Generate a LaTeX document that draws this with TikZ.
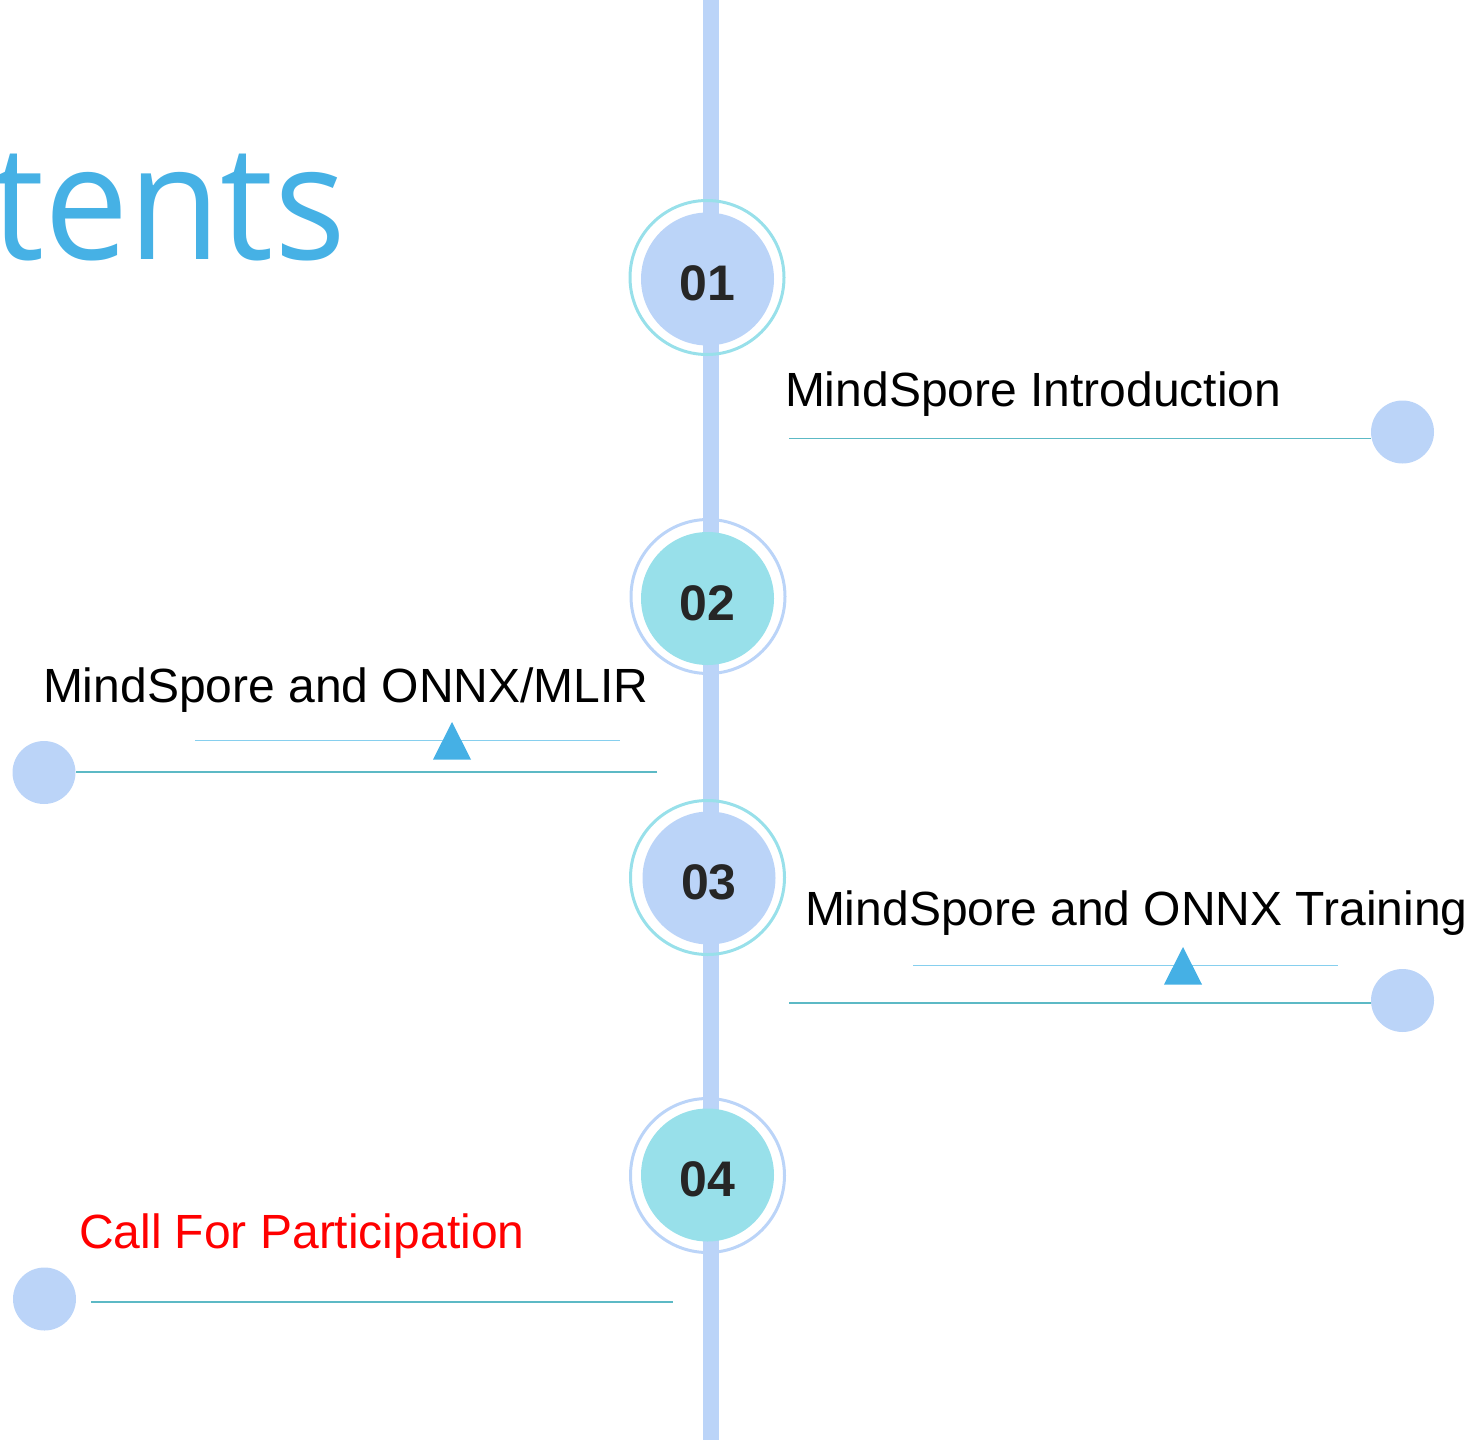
\documentclass[tikz,border=0pt]{standalone}
\usepackage{fontspec}
\setmainfont{Liberation Sans}
\newfontfamily\titlefont{Open Sans}
\definecolor{barblue}{HTML}{BBD4F8}
\definecolor{cyanfill}{HTML}{98E0EA}
\definecolor{tealline}{HTML}{5CB9C5}
\definecolor{skyline}{HTML}{86CFEE}
\definecolor{triblue}{HTML}{45B0E5}
\definecolor{titleblue}{HTML}{46B1E5}
\definecolor{numdark}{HTML}{262626}
\begin{document}
\begin{tikzpicture}[x=1pt,y=-1pt,
  ring/.style={circle,draw=#1,line width=3pt,fill=none,minimum size=154pt,inner sep=0pt},
  core/.style={circle,fill=#1,minimum size=133pt,inner sep=0pt,text height=43pt,text depth=0pt,font=\fontsize{50}{50}\selectfont\bfseries,text=numdark},
  dot/.style={circle,fill=barblue,minimum size=63pt,inner sep=0pt},
  label/.style={anchor=base west,inner sep=0pt,outer sep=0pt,font=\fontsize{48}{48}\selectfont},
  mainline/.style={draw=tealline,line width=1.6pt},
  thinline/.style={draw=skyline,line width=1pt},
  tri/.style={fill=triblue}
]
\useasboundingbox (0,0) rectangle (1476,1440);
\clip (0,0) rectangle (1476,1440);

% title
\node[anchor=base east,inner sep=0pt,text=titleblue,font=\titlefont\fontsize{160}{160}\selectfont] (title) at (346,259) {\scalebox{0.94}[1]{tents}};

% vertical bar
\coordinate (bartop) at (711,0);
\coordinate (barbot) at (711,1440);
\draw[barblue,line width=16pt] (bartop) -- (barbot);

% circles
\node[core=barblue] (c1) at (707.5,279) {01};
\node[ring=cyanfill] (r1) at (707,277.5) {};
\node[core=cyanfill] (c2) at (707.5,598.5) {02};
\node[ring=barblue] (r2) at (708,596.5) {};
\node[core=barblue] (c3) at (709,878) {03};
\node[ring=cyanfill] (r3) at (707.5,877.5) {};
\node[core=cyanfill] (c4) at (707.5,1175) {04};
\node[ring=barblue] (r4) at (707.5,1175.5) {};

% item 1
\node[label] (t1) at (785,406) {MindSpore Introduction};
\node[dot] (d1) at (1402.5,432) {};
\coordinate (l1) at (789,438.5);
\draw[mainline] (l1) -- (l1 -| d1.west);

% item 2
\node[label] (t2) at (43,702.5) {MindSpore and ONNX/MLIR};
\node[dot] (d2) at (44,772.5) {};
\coordinate (l2) at (657,772);
\draw[mainline] (l2) -- (l2 -| d2.east);
\coordinate (u2a) at (195,740);
\coordinate (u2b) at (620,740);
\draw[thinline] (u2a) -- (u2b);
\coordinate (p2) at (452,722);
\fill[tri] (p2) -- (471,759.5) -- (433,759.5) -- cycle;

% item 3
\node[label] (t3) at (805,925) {MindSpore and ONNX Training};
\node[dot] (d3) at (1402.5,1000.5) {};
\coordinate (l3) at (789,1003);
\draw[mainline] (l3) -- (l3 -| d3.west);
\coordinate (u3a) at (913,965);
\coordinate (u3b) at (1338,965);
\draw[thinline] (u3a) -- (u3b);
\coordinate (p3) at (1183,947);
\fill[tri] (p3) -- (1202,984.5) -- (1164,984.5) -- cycle;

% item 4
\node[label,text=red] (t4) at (79,1248) {Call For Participation};
\node[dot] (d4) at (44.5,1299) {};
\coordinate (l4a) at (91,1302);
\coordinate (l4b) at (673,1302);
\draw[mainline] (l4a) -- (l4b);
\end{tikzpicture}
\end{document}
